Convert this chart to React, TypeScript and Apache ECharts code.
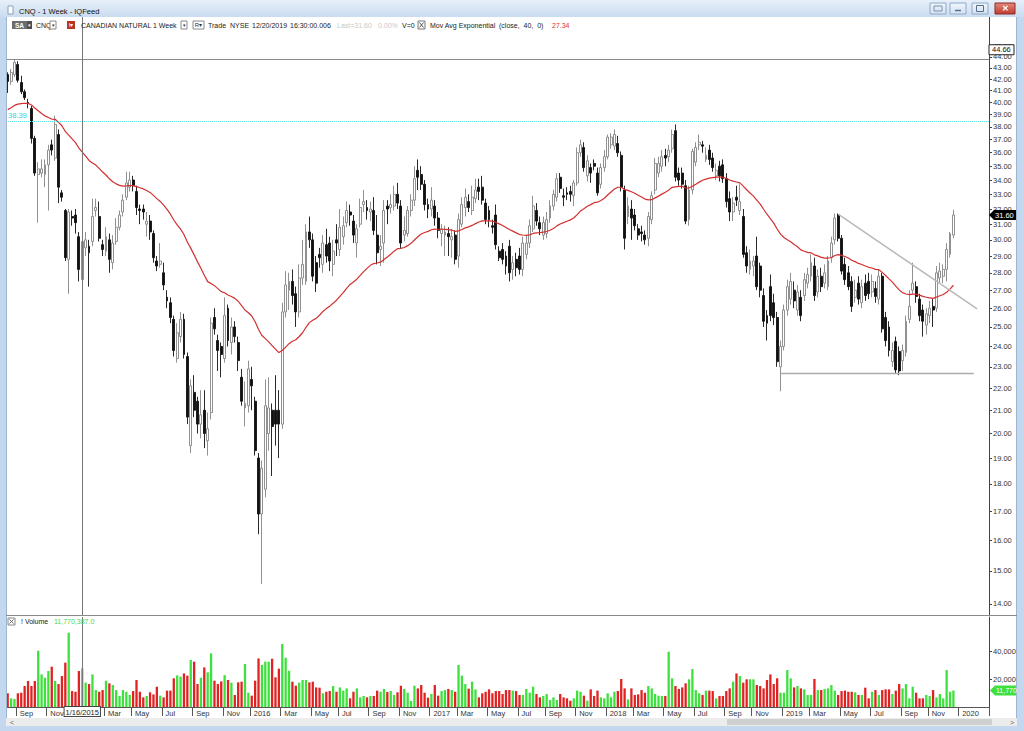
import React, { useEffect, useRef } from "react";
import * as echarts from "echarts";

// ---------- data ----------
const FIRST_WEEK_UTC = Date.UTC(2014, 7, 15); // Friday 8/15/2014
const WEEK_COUNT = 290; // weekly slots on the axis (280 bars + empty space on the right)

const OPEN = [
  42.4, 41.8, 42.4, 43.3, 41.7, 40.9, 40.0, 39.5, 37.1, 34.4,
  34.5, 34.4, 35.1, 36.6, 35.6, 37.4, 33.1, 31.9, 28.8, 31.5,
  31.6, 30.2, 27.6, 29.5, 29.6, 29.9, 31.9, 31.5, 29.7, 29.3,
  30.0, 28.6, 29.9, 30.8, 31.8, 32.8, 33.5, 34.0, 33.2, 32.0,
  32.0, 31.0, 31.2, 30.4, 28.7, 28.5, 28.0, 26.6, 26.3, 25.4,
  23.4, 24.5, 25.4, 23.5, 19.5, 21.8, 21.4, 20.4, 21.0, 19.7,
  20.9, 25.5, 24.3, 24.0, 23.4, 26.0, 24.2, 25.0, 24.2, 22.5,
  21.1, 21.2, 22.4, 21.4, 19.0, 16.9, 17.8, 20.0, 21.0, 21.0,
  21.0, 20.4, 25.8, 27.0, 27.5, 26.8, 25.8, 27.7, 27.5, 30.5,
  30.0, 28.6, 29.1, 28.5, 29.7, 29.8, 28.5, 30.0, 29.4, 30.2,
  31.1, 31.8, 31.2, 29.8, 31.0, 32.3, 32.1, 31.8, 31.9, 30.3,
  29.4, 29.8, 32.2, 32.1, 32.2, 33.0, 32.2, 30.3, 30.4, 31.9,
  32.6, 34.7, 34.4, 33.7, 32.3, 32.0, 32.2, 31.4, 30.4, 30.3,
  30.4, 30.0, 30.3, 29.0, 31.0, 32.1, 32.5, 31.9, 32.7, 33.5,
  33.5, 32.4, 31.9, 30.9, 31.6, 29.3, 29.4, 29.0, 29.6, 28.2,
  28.8, 29.0, 28.2, 29.1, 29.8, 30.7, 31.9, 31.1, 30.3, 30.4,
  31.4, 32.2, 32.8, 34.2, 32.9, 33.1, 33.2, 32.9, 33.8, 36.0,
  36.4, 34.3, 34.9, 35.2, 34.5, 33.7, 34.9, 35.7, 36.6, 36.5,
  36.7, 35.8, 33.3, 31.5, 32.0, 31.6, 30.7, 30.5, 30.3, 30.1,
  31.3, 33.3, 34.5, 35.0, 35.8, 35.7, 36.3, 37.7, 34.5, 34.5,
  33.6, 31.3, 33.3, 35.3, 36.6, 36.6, 35.5, 36.2, 35.6, 34.3,
  35.0, 35.1, 34.1, 32.7, 31.8, 32.8, 31.9, 31.5, 29.2, 28.2,
  28.4, 29.0, 28.4, 26.7, 25.6, 27.2, 26.3, 25.5, 23.0, 24.0,
  25.9, 26.5, 27.0, 25.9, 26.6, 26.7, 27.4, 27.8, 28.4, 26.9,
  27.8, 27.4, 27.2, 28.9, 30.0, 31.6, 30.1, 28.5, 28.0, 27.5,
  26.6, 27.4, 26.3, 27.4, 27.5, 26.9, 27.1, 26.5, 27.8, 25.5,
  25.0, 23.25, 24.25, 23.75, 23.3, 23.7, 25.4, 27.0, 27.2, 26.5,
  25.9, 25.1, 25.6, 26.1, 26.0, 27.7, 27.8, 28.2, 29.1, 30.3,
];
const CLOSE = [
  41.8, 42.6, 43.5, 41.9, 40.9, 40.4, 39.9, 37.1, 34.5, 34.8,
  34.8, 35.1, 36.2, 36.2, 38.2, 33.5, 32.8, 28.9, 31.8, 31.4,
  31.1, 28.2, 29.9, 30.0, 29.2, 31.5, 32.1, 30.1, 29.4, 30.2,
  28.8, 29.8, 30.8, 31.6, 32.6, 33.8, 34.0, 33.6, 32.1, 31.9,
  31.8, 31.2, 30.5, 28.9, 28.4, 28.7, 27.3, 26.4, 25.5, 23.8,
  24.7, 25.4, 23.6, 20.7, 22.1, 21.0, 20.4, 20.8, 20.0, 20.2,
  25.2, 24.9, 23.8, 23.6, 25.6, 24.3, 25.0, 24.5, 23.3, 21.4,
  21.3, 22.9, 22.1, 19.3, 16.9, 18.6, 21.2, 21.1, 20.3, 20.4,
  20.4, 25.8, 27.3, 27.5, 26.7, 25.8, 27.7, 28.5, 30.5, 30.0,
  27.8, 27.4, 28.9, 29.8, 29.0, 28.7, 29.3, 29.8, 30.8, 30.9,
  31.9, 31.6, 30.3, 30.7, 32.1, 32.5, 31.9, 32.0, 30.6, 29.2,
  29.6, 31.9, 32.0, 32.3, 33.0, 32.4, 29.8, 30.6, 31.9, 32.6,
  34.1, 34.2, 33.7, 32.3, 32.0, 32.6, 31.4, 30.6, 30.7, 30.5,
  30.2, 30.2, 28.8, 31.3, 32.3, 32.8, 32.1, 32.8, 33.3, 33.2,
  32.6, 31.3, 31.3, 30.8, 29.7, 28.9, 28.8, 28.4, 28.0, 28.6,
  28.3, 28.2, 29.8, 29.8, 30.9, 32.2, 31.2, 30.7, 31.1, 31.3,
  32.2, 33.0, 34.1, 33.4, 32.8, 33.0, 33.0, 33.8, 36.0, 36.6,
  34.9, 35.4, 34.5, 35.0, 33.1, 34.9, 35.7, 37.2, 37.2, 37.4,
  36.0, 33.5, 30.1, 32.2, 31.4, 30.9, 30.3, 30.4, 30.0, 31.5,
  32.9, 35.2, 35.2, 35.7, 35.6, 36.2, 37.4, 34.2, 34.0, 33.7,
  31.2, 33.3, 36.1, 36.4, 36.8, 36.5, 35.8, 35.5, 34.9, 34.7,
  34.3, 34.1, 32.5, 31.8, 32.4, 32.6, 32.5, 29.1, 28.4, 28.7,
  28.7, 27.2, 27.0, 25.3, 25.2, 25.6, 25.5, 23.25, 24.0, 25.9,
  27.2, 27.5, 26.4, 26.9, 25.6, 27.6, 27.9, 28.6, 26.7, 27.8,
  27.2, 28.0, 28.7, 29.8, 31.4, 30.1, 28.1, 27.6, 27.2, 26.1,
  27.0, 26.5, 27.2, 26.7, 26.8, 27.5, 26.65, 27.8, 24.9, 24.3,
  23.8, 23.8, 22.85, 22.8, 23.8, 25.3, 26.1, 27.4, 26.65, 25.6,
  25.3, 25.7, 26.0, 25.9, 28.0, 28.1, 28.2, 29.4, 30.4, 31.6,
];
const LOW = [
  40.8, 41.5, 42.2, 41.7, 40.7, 40.2, 39.5, 36.7, 34.3, 31.1,
  34.2, 33.5, 31.9, 35.8, 35.4, 32.4, 32.5, 28.7, 26.8, 30.9,
  30.4, 27.5, 27.4, 29.0, 27.2, 29.6, 31.5, 29.9, 29.0, 29.0,
  28.0, 28.2, 29.7, 30.6, 31.5, 32.6, 33.2, 33.2, 31.6, 31.0,
  31.3, 30.2, 30.0, 28.6, 28.1, 28.3, 27.0, 26.0, 25.2, 23.5,
  23.2, 24.2, 23.4, 20.4, 19.2, 20.7, 20.0, 19.8, 19.4, 19.1,
  20.6, 24.6, 22.8, 22.5, 23.2, 24.0, 23.6, 24.2, 22.8, 21.2,
  20.3, 20.9, 21.0, 19.1, 16.2, 14.6, 17.5, 19.3, 18.3, 19.5,
  19.0, 20.2, 25.5, 25.9, 26.2, 25.0, 25.5, 27.3, 27.3, 29.5,
  27.5, 26.9, 28.3, 28.0, 28.6, 28.1, 27.8, 29.0, 29.0, 29.7,
  30.8, 30.9, 29.8, 28.9, 30.8, 31.8, 31.3, 31.2, 30.3, 28.5,
  28.4, 28.6, 31.0, 31.7, 31.9, 32.0, 29.5, 29.9, 30.2, 31.5,
  32.2, 33.3, 33.3, 31.9, 31.4, 31.5, 30.9, 30.1, 29.6, 29.0,
  29.0, 28.9, 28.5, 28.3, 30.8, 31.5, 31.8, 31.6, 32.4, 32.6,
  32.3, 31.0, 30.8, 30.4, 29.4, 28.7, 28.5, 27.9, 27.5, 27.6,
  27.8, 27.9, 27.8, 28.8, 29.5, 30.5, 30.9, 30.3, 30.0, 30.1,
  31.1, 31.9, 32.5, 33.1, 32.2, 32.6, 32.5, 32.2, 33.6, 35.7,
  34.6, 33.9, 33.8, 34.7, 32.9, 33.4, 34.6, 35.5, 36.3, 36.2,
  35.7, 33.2, 29.4, 31.0, 30.0, 30.6, 30.0, 29.9, 29.7, 29.6,
  31.0, 33.0, 34.2, 34.6, 35.0, 35.3, 36.0, 33.9, 33.6, 33.4,
  31.0, 30.9, 33.0, 35.0, 36.2, 36.0, 35.3, 35.1, 34.6, 34.0,
  33.9, 33.8, 32.1, 31.2, 31.2, 32.2, 31.6, 28.9, 28.0, 27.9,
  27.8, 27.0, 26.6, 25.0, 24.3, 25.3, 25.1, 23.0, 21.85, 23.8,
  25.6, 26.2, 26.0, 25.6, 25.3, 26.4, 27.1, 27.5, 26.4, 26.6,
  26.9, 27.1, 27.0, 28.6, 29.7, 29.9, 27.9, 27.3, 27.0, 25.8,
  26.3, 26.2, 26.0, 26.4, 26.5, 26.6, 26.3, 26.2, 24.7, 24.0,
  23.5, 23.0, 22.7, 22.6, 22.8, 23.5, 25.2, 26.8, 26.3, 25.3,
  24.5, 24.6, 25.2, 25.0, 25.8, 27.4, 27.4, 27.5, 28.9, 30.1,
];
const HIGH = [
  42.6, 42.9, 43.7, 43.6, 42.3, 41.1, 40.3, 39.7, 37.3, 35.3,
  35.5, 35.5, 36.6, 37.0, 38.9, 37.8, 33.3, 32.0, 32.0, 31.9,
  32.0, 30.5, 30.3, 30.5, 30.0, 32.7, 32.7, 32.5, 30.0, 30.8,
  30.4, 30.3, 31.4, 31.9, 33.0, 34.6, 34.6, 34.3, 33.6, 32.3,
  32.3, 31.8, 31.6, 30.6, 29.0, 29.8, 28.6, 27.0, 26.6, 25.6,
  25.2, 25.8, 25.7, 23.7, 22.4, 22.6, 21.6, 21.9, 21.9, 20.9,
  25.5, 26.0, 24.6, 24.2, 26.6, 26.2, 25.5, 25.3, 24.5, 22.9,
  22.3, 23.3, 23.0, 21.6, 19.2, 18.9, 22.4, 22.5, 21.3, 22.6,
  21.9, 26.3, 28.1, 28.0, 28.2, 27.2, 28.5, 30.0, 31.0, 31.5,
  30.4, 29.0, 29.5, 30.3, 30.7, 30.2, 30.0, 31.0, 32.0, 31.5,
  32.5, 32.3, 31.6, 31.0, 32.7, 33.3, 32.6, 32.5, 32.8, 31.6,
  30.3, 32.6, 32.6, 33.0, 33.6, 33.8, 32.6, 31.5, 32.2, 33.0,
  35.0, 35.5, 35.0, 34.0, 32.7, 33.5, 32.6, 31.8, 31.0, 30.9,
  30.8, 30.7, 30.6, 31.7, 32.8, 33.4, 33.0, 33.6, 34.1, 34.1,
  34.3, 32.7, 32.2, 31.3, 32.3, 29.6, 29.8, 29.3, 30.0, 29.0,
  29.2, 29.5, 30.2, 30.3, 31.3, 32.9, 32.4, 31.5, 31.5, 31.8,
  32.6, 33.3, 34.5, 34.5, 33.4, 33.5, 33.6, 34.0, 36.4, 37.0,
  36.8, 35.8, 35.2, 35.5, 34.9, 35.2, 36.2, 37.4, 37.5, 37.8,
  37.3, 36.1, 33.6, 32.8, 32.6, 32.0, 31.0, 30.9, 30.6, 31.8,
  33.2, 35.6, 35.7, 36.2, 36.3, 36.6, 37.8, 38.2, 34.9, 34.9,
  34.0, 33.6, 36.3, 36.8, 37.4, 36.9, 36.4, 36.6, 36.0, 35.2,
  35.4, 35.5, 34.5, 33.2, 32.8, 33.6, 33.7, 32.0, 29.6, 29.4,
  29.0, 30.2, 28.6, 27.1, 25.9, 27.9, 26.8, 25.8, 24.3, 26.2,
  27.6, 28.0, 27.5, 27.3, 27.0, 28.0, 28.3, 29.1, 28.9, 28.2,
  28.3, 28.5, 29.0, 30.2, 31.7, 31.7, 30.3, 28.9, 28.4, 27.8,
  27.6, 27.8, 27.6, 27.9, 28.0, 27.9, 27.5, 28.2, 28.0, 25.8,
  25.3, 24.2, 24.5, 24.0, 24.1, 25.6, 27.0, 28.6, 27.5, 26.8,
  26.2, 26.0, 26.4, 26.5, 28.4, 28.6, 28.5, 29.8, 30.5, 31.95,
];
// weekly volume, millions of shares
const VOLUME_M = [
  9.8, 6.2, 5.7, 9.8, 10.2, 15.0, 18.6, 15.0, 18.6, 40.2,
  23.3, 20.9, 25.7, 28.8, 18.6, 16.4, 22.1, 31.7, 53.1, 11.4,
  10.9, 25.7, 27.6, 17.4, 16.4, 23.3, 12.1, 10.9, 12.1, 18.8,
  16.9, 15.7, 12.1, 7.9, 12.1, 10.9, 8.6, 11.4, 19.3, 10.9,
  6.9, 7.9, 10.5, 9.0, 14.5, 8.1, 6.9, 11.7, 11.7, 20.5,
  22.6, 21.7, 24.0, 22.4, 33.6, 32.4, 16.4, 20.9, 28.3, 24.8,
  38.3, 18.8, 16.4, 18.3, 22.8, 19.3, 17.4, 8.6, 17.6, 18.1,
  30.7, 10.2, 8.1, 18.8, 34.7, 30.0, 32.4, 32.4, 34.5, 21.2,
  27.4, 45.0, 35.2, 25.9, 18.1, 15.2, 17.4, 19.3, 19.3, 17.6,
  18.1, 14.0, 13.8, 9.8, 10.9, 11.4, 15.0, 10.9, 14.0, 11.7,
  13.3, 6.2, 10.9, 13.3, 6.9, 7.9, 6.9, 7.9, 7.9, 11.7,
  10.9, 12.9, 10.7, 11.4, 8.6, 10.5, 15.2, 12.9, 10.2, 4.3,
  15.2, 13.3, 15.7, 10.2, 6.7, 9.3, 15.7, 8.1, 11.4, 12.1,
  12.9, 12.1, 10.9, 30.0, 22.4, 16.4, 13.1, 18.1, 12.6, 6.9,
  9.8, 10.9, 12.6, 9.8, 11.4, 11.4, 9.3, 12.1, 12.1, 11.7,
  11.4, 8.6, 8.6, 12.9, 10.2, 14.5, 9.3, 6.9, 7.9, 9.3,
  5.0, 6.9, 5.0, 9.3, 6.9, 6.2, 4.5, 6.2, 11.7, 10.9,
  8.1, 4.5, 12.6, 7.9, 11.7, 6.9, 6.2, 9.8, 6.9, 10.9,
  11.4, 20.0, 13.3, 5.5, 13.3, 8.6, 9.0, 12.1, 10.2, 15.0,
  13.3, 9.3, 8.1, 7.9, 7.9, 39.5, 20.5, 15.0, 12.9, 14.0,
  16.9, 19.8, 27.1, 12.1, 9.8, 8.6, 11.7, 11.7, 11.4, 6.2,
  7.9, 7.9, 11.4, 13.3, 18.1, 24.0, 22.1, 17.4, 19.8, 19.8,
  19.8, 15.7, 15.0, 13.3, 19.3, 23.3, 16.4, 20.5, 10.2, 10.2,
  26.4, 20.5, 14.0, 15.0, 13.3, 12.6, 8.6, 8.6, 20.0, 12.1,
  12.1, 12.9, 13.3, 15.7, 11.7, 8.6, 11.4, 11.7, 10.9, 10.9,
  10.5, 8.6, 8.6, 13.8, 6.2, 10.9, 12.1, 8.6, 12.1, 12.6,
  12.6, 9.3, 11.7, 16.4, 13.3, 16.4, 6.2, 14.5, 10.2, 6.2,
  6.2, 8.6, 7.9, 12.1, 6.9, 9.3, 6.2, 26.4, 10.9, 11.77,
];

const PRICE_TICKS = [
  14, 15, 16, 17, 18, 19, 20, 21, 22, 23, 24, 25, 26, 27, 28, 29,
  30, 31, 32, 33, 34, 35, 36, 37, 38, 39, 40, 41, 42, 43, 44, 45,
];
const VOLUME_TICKS = [20, 40];
const PRICE_MIN = 13.68;
const PRICE_MAX = 47.83;
const VOLUME_MAX = 64.3;

const EMA_PERIOD = 40;
const EMA_START = 39.4;
const EMA_LAST_TEXT = "27.34";

const LAST_PRICE = 31.6;
const CURSOR_PRICE = 44.66;
const CURSOR_LINE_PRICE = 44.0;
const ALERT_PRICE = 38.39;
const CROSSHAIR_DATE = "2015-01-16";
const LAST_VOLUME = 11.77;
const LAST_VOLUME_TEXT = "11,770,387.0";
const LAST_VOLUME_TAG = "11,770";

const TREND_DOWN: [string, number][] = [["2019-04-26", 31.66], ["2020-02-07", 25.96]];
const TREND_SUPPORT: [string, number][] = [["2018-12-28", 22.71], ["2020-01-31", 22.71]];

const MONTHS = ["Jan", "Feb", "Mar", "Apr", "May", "Jun", "Jul", "Aug", "Sep", "Oct", "Nov", "Dec"];

// ---------- helpers ----------
const FONT = "'Liberation Sans', Arial, sans-serif";
const GRID_LEFT = 6;
const GRID_RIGHT = 35;

function buildWeeks(): string[] {
  const out: string[] = [];
  for (let i = 0; i < WEEK_COUNT; i++) {
    out.push(new Date(FIRST_WEEK_UTC + i * 7 * 86400000).toISOString().slice(0, 10));
  }
  return out;
}

function buildEma(): number[] {
  const k = 2 / (EMA_PERIOD + 1);
  const out: number[] = [];
  let e = EMA_START;
  CLOSE.forEach((c, i) => {
    if (i > 0) e = e + k * (c - e);
    out.push(e);
  });
  return out;
}

function usDate(iso: string) {
  const [y, m, d] = iso.split("-");
  return `${+m}/${+d}/${y}`;
}

function txt(x: number, y: number, text: string, o: any = {}) {
  return {
    type: "text",
    x,
    y,
    z: 200,
    silent: true,
    style: {
      text,
      fill: o.fill || "#222",
      fontSize: o.size || 7,
      fontFamily: FONT,
      fontWeight: o.weight || "normal",
      align: o.align || "left",
      verticalAlign: "middle",
    },
  };
}
function rect(x: number, y: number, w: number, h: number, fill: any, stroke?: string, z = 200) {
  return {
    type: "rect",
    z,
    silent: true,
    shape: { x, y, width: w, height: h },
    style: { fill, stroke: stroke || null, lineWidth: stroke ? 1 : 0 },
  };
}
function seg(x1: number, y1: number, x2: number, y2: number, stroke: string, w = 1, z = 200) {
  return {
    type: "line",
    z,
    silent: true,
    shape: { x1, y1, x2, y2 },
    style: { stroke, lineWidth: w },
  };
}

export default function App() {
  const ref = useRef<HTMLDivElement>(null);

  useEffect(() => {
    if (!ref.current) return;
    const chart = echarts.init(ref.current, undefined, { renderer: "svg" });
    const weeks = buildWeeks();
    const ema = buildEma();
    const ln = Math.log;

    const showMonth = (idx: number) => {
      if (idx === 0) return false;
      const cur = weeks[idx];
      const prev = weeks[idx - 1];
      if (cur.slice(5, 7) === prev.slice(5, 7)) return false;
      const m = +cur.slice(5, 7);
      if (m % 2 === 0) return false;
      if (cur.slice(0, 7) === CROSSHAIR_DATE.slice(0, 7)) return false;
      return true;
    };
    const monthLabel = (v: string) => {
      const m = +v.slice(5, 7);
      return m === 1 ? v.slice(0, 4) : MONTHS[m - 1];
    };

    const candles = OPEN.map((o, i) => [ln(o), ln(CLOSE[i]), ln(LOW[i]), ln(HIGH[i])]);
    const volumes = VOLUME_M.map((v, i) => ({
      value: v,
      itemStyle: { color: CLOSE[i] >= OPEN[i] ? "#3ee03e" : "#e02222" },
    }));

    const option: any = {
      animation: false,
      backgroundColor: "#ffffff",
      textStyle: { fontFamily: FONT },
      grid: [
        { left: GRID_LEFT, right: GRID_RIGHT, top: 17, height: 598 },
        { left: GRID_LEFT, right: GRID_RIGHT, top: 617, height: 90 },
      ],
      xAxis: [
        { type: "category", gridIndex: 0, data: weeks, boundaryGap: true, show: false },
        {
          type: "category",
          gridIndex: 1,
          data: weeks,
          boundaryGap: true,
          axisLine: { show: true, lineStyle: { color: "#555", width: 1 } },
          axisTick: { show: true, interval: showMonth, length: 9, lineStyle: { color: "#555" } },
          axisLabel: {
            interval: showMonth,
            formatter: monthLabel,
            align: "left",
            margin: 2,
            padding: [0, 0, 0, 2],
            fontSize: 7.5,
            color: "#333",
            fontFamily: FONT,
          },
          splitLine: { show: false },
        },
      ],
      yAxis: [
        {
          type: "value",
          gridIndex: 0,
          position: "right",
          min: ln(PRICE_MIN),
          max: ln(PRICE_MAX),
          splitLine: { show: false },
          axisLine: { show: true, lineStyle: { color: "#444", width: 1 } },
          axisTick: { show: true, customValues: PRICE_TICKS.map(ln), length: 3, lineStyle: { color: "#444" } },
          axisLabel: {
            customValues: PRICE_TICKS.map(ln),
            formatter: (v: number) => Math.exp(v).toFixed(2),
            fontSize: 7.5,
            color: "#333",
            margin: 4,
            fontFamily: FONT,
          },
        },
        {
          type: "value",
          gridIndex: 1,
          position: "right",
          min: 0,
          max: VOLUME_MAX,
          splitLine: { show: false },
          axisLine: { show: true, lineStyle: { color: "#444", width: 1 } },
          axisTick: { show: true, customValues: VOLUME_TICKS, length: 3, lineStyle: { color: "#444" } },
          axisLabel: {
            customValues: VOLUME_TICKS,
            formatter: (v: number) => (v * 1000).toLocaleString("en-US") + ".",
            fontSize: 7.5,
            color: "#333",
            margin: 4,
            fontFamily: FONT,
          },
        },
      ],
      series: [
        {
          type: "candlestick",
          name: "CNQ",
          xAxisIndex: 0,
          yAxisIndex: 0,
          data: candles,
          barWidth: 2.4,
          itemStyle: {
            color: "#ffffff",
            color0: "#111111",
            borderColor: "#858585",
            borderColor0: "#111111",
            borderWidth: 0.9,
          },
          z: 2,
          markLine: {
            silent: true,
            symbol: ["none", "none"],
            animation: false,
            label: { show: false },
            data: [
              {
                yAxis: ln(ALERT_PRICE),
                lineStyle: { color: "#5fe6ea", type: "dotted", width: 1 },
                label: {
                  show: true,
                  position: "insideStartTop",
                  formatter: ALERT_PRICE.toFixed(2),
                  color: "#22d4dc",
                  fontSize: 7.5,
                  distance: [2, 1],
                },
              },
              { yAxis: ln(CURSOR_LINE_PRICE), lineStyle: { color: "#8a8a8a", type: "solid", width: 1 } },
              { xAxis: CROSSHAIR_DATE, lineStyle: { color: "#777", type: "solid", width: 1 } },
              [
                { coord: [TREND_DOWN[0][0], ln(TREND_DOWN[0][1])], lineStyle: { color: "#b8b8b8", type: "solid", width: 1.5 } },
                { coord: [TREND_DOWN[1][0], ln(TREND_DOWN[1][1])] },
              ],
              [
                { coord: [TREND_SUPPORT[0][0], ln(TREND_SUPPORT[0][1])], lineStyle: { color: "#ababab", type: "solid", width: 1.3 } },
                { coord: [TREND_SUPPORT[1][0], ln(TREND_SUPPORT[1][1])] },
              ],
            ],
          },
        },
        {
          type: "line",
          name: "EMA",
          xAxisIndex: 0,
          yAxisIndex: 0,
          data: ema.map(ln),
          showSymbol: false,
          silent: true,
          lineStyle: { color: "#d32f2f", width: 1.2 },
          z: 4,
        },
        {
          type: "bar",
          name: "Volume",
          xAxisIndex: 1,
          yAxisIndex: 1,
          data: volumes,
          barWidth: 2.3,
          z: 2,
          markLine: {
            silent: true,
            symbol: ["none", "none"],
            animation: false,
            data: [
              {
                xAxis: CROSSHAIR_DATE,
                lineStyle: { color: "#777", type: "solid", width: 1 },
                label: {
                  show: true,
                  position: "start",
                  formatter: usDate(CROSSHAIR_DATE),
                  color: "#222",
                  fontSize: 7.5,
                  backgroundColor: "#ffffff",
                  borderColor: "#444",
                  borderWidth: 1,
                  padding: [1, 1, 0, 1],
                  distance: 0,
                },
              },
            ],
          },
        },
      ],
    };
    chart.setOption(option);

    const W = 1024;
    const axisX = W - GRID_RIGHT;
    const yLast = chart.convertToPixel({ yAxisIndex: 0 }, ln(LAST_PRICE)) as number;
    const yCur = chart.convertToPixel({ yAxisIndex: 0 }, ln(CURSOR_PRICE)) as number;
    const yVol = chart.convertToPixel({ yAxisIndex: 1 }, LAST_VOLUME) as number;

    const titleGrad = new echarts.graphic.LinearGradient(0, 0, 0, 1, [
      { offset: 0, color: "#e7f0fa" },
      { offset: 1, color: "#cadcf0" },
    ]);
    const btnGrad = new echarts.graphic.LinearGradient(0, 0, 0, 1, [
      { offset: 0, color: "#f0f5fb" },
      { offset: 1, color: "#d3e1f1" },
    ]);
    const closeGrad = new echarts.graphic.LinearGradient(0, 0, 0, 1, [
      { offset: 0, color: "#e08a7f" },
      { offset: 1, color: "#c23b2e" },
    ]);
    const hy = 25;

    const graphic: any[] = [
      // window frame
      rect(0, 0, W, 17, titleGrad),
      rect(0, 17, 6, 714, "#c3d7ee"),
      seg(6.5, 17, 6.5, 726, "#9fb6d3"),
      rect(1017, 17, 7, 714, "#c3d7ee"),
      seg(1016.5, 17, 1016.5, 726, "#9fb6d3"),
      rect(6, 718, 1011, 8, "#ececec"),
      rect(727, 719, 265, 6, "#cfcfcf"),
      txt(10, 722, "<", { fill: "#666", size: 7 }),
      txt(1010, 722, ">", { fill: "#666", size: 7 }),
      rect(0, 726, W, 5, "#c3d7ee"),
      // title
      rect(8, 6, 5, 8, "#ffffff", "#8aa0b8"),
      txt(19, 11, "CNQ - 1 Week - IQFeed", { fill: "#111", size: 7.5 }),
      rect(930, 3, 16, 11, btnGrad, "#8ea8c8"),
      rect(934, 6, 8, 5, "none", "#7a8fa8"),
      rect(950, 3, 16, 11, btnGrad, "#8ea8c8"),
      seg(955, 10.5, 961, 10.5, "#5a6f88", 1.5),
      rect(972, 3, 16, 11, btnGrad, "#8ea8c8"),
      rect(976.5, 5.5, 7, 6, "none", "#5a6f88"),
      rect(995, 3, 20, 11, closeGrad, "#8e2b23"),
      txt(1005, 8.5, "✕", { fill: "#ffffff", size: 8, align: "center", weight: "bold" }),
      // header row
      rect(12, 21, 15, 8, "#6d6d6d"),
      txt(19.5, hy, "SA", { fill: "#ffffff", size: 6.5, align: "center", weight: "bold" }),
      rect(27, 21, 5, 8, "#4f4f4f"),
      txt(29.5, hy, "▾", { fill: "#ffffff", size: 5, align: "center" }),
      txt(36, hy, "CNQ", { size: 7 }),
      rect(50, 21, 6, 8, "#ffffff", "#8a8a8a"),
      txt(53, hy, "▾", { size: 5, align: "center", fill: "#333" }),
      rect(67, 21, 8, 8, "#b8361f"),
      txt(71, hy, "I▾", { fill: "#ffffff", size: 5.5, align: "center" }),
      txt(81, hy, "CANADIAN NATURAL", { size: 7 }),
      txt(153, hy, "1 Week", { size: 7 }),
      rect(181, 21, 6, 8, "#ffffff", "#8a8a8a"),
      txt(184, hy, "▾", { size: 5, align: "center", fill: "#333" }),
      rect(193, 21, 11, 8, "#ffffff", "#8a8a8a"),
      txt(198.5, hy, "R▾", { size: 6, align: "center", fill: "#333" }),
      txt(208, hy, "Trade", { size: 7 }),
      txt(230, hy, "NYSE", { size: 7 }),
      txt(252, hy, "12/20/2019", { size: 7 }),
      txt(290, hy, "16:30:00.006", { size: 7 }),
      txt(337, hy, `Last=${LAST_PRICE.toFixed(2)}`, { size: 7, fill: "#c9c9c9" }),
      txt(378, hy, "0.00%", { size: 7, fill: "#c9c9c9" }),
      txt(402, hy, "V=0", { size: 7 }),
      rect(418, 21, 7, 8, "#ffffff", "#777"),
      seg(419.5, 22.5, 423.5, 27.5, "#555"),
      seg(423.5, 22.5, 419.5, 27.5, "#555"),
      txt(430, hy, "Mov Avg Exponential", { size: 7 }),
      txt(499, hy, `(close,  ${EMA_PERIOD},  0)`, { size: 7 }),
      txt(552, hy, EMA_LAST_TEXT, { size: 7, fill: "#e03030" }),
      // pane separator and volume header
      seg(6, 615.5, 1017, 615.5, "#8a8a8a"),
      rect(8, 618, 7, 7, "#ffffff", "#888"),
      seg(9.5, 619.5, 13.5, 623.5, "#666"),
      seg(13.5, 619.5, 9.5, 623.5, "#666"),
      txt(21, 621.5, "! Volume", { size: 7 }),
      txt(54, 621.5, LAST_VOLUME_TEXT, { size: 7, fill: "#4bd84b" }),
      // price tags on the axis
      rect(axisX, yCur - 5, 25, 10, "#ffffff", "#222"),
      txt(axisX + 3, yCur, CURSOR_PRICE.toFixed(2), { size: 7.5, fill: "#111" }),
      {
        type: "polygon",
        z: 200,
        silent: true,
        shape: { points: [[axisX, yLast], [axisX + 5, yLast - 5], [axisX + 27, yLast - 5], [axisX + 27, yLast + 5], [axisX + 5, yLast + 5]] },
        style: { fill: "#000000" },
      },
      txt(axisX + 6, yLast, LAST_PRICE.toFixed(2), { size: 7.5, fill: "#ffffff" }),
      {
        type: "polygon",
        z: 200,
        silent: true,
        shape: { points: [[axisX + 1, yVol], [axisX + 6, yVol - 5], [axisX + 27, yVol - 5], [axisX + 27, yVol + 5], [axisX + 6, yVol + 5]] },
        style: { fill: "#3ee03e" },
      },
      txt(axisX + 7, yVol, LAST_VOLUME_TAG, { size: 7, fill: "#ffffff" }),
    ];
    chart.setOption({ graphic });

    return () => chart.dispose();
  }, []);

  return <div ref={ref} style={{ position: "absolute", left: 0, top: 0, width: 1024, height: 731 }} />;
}
